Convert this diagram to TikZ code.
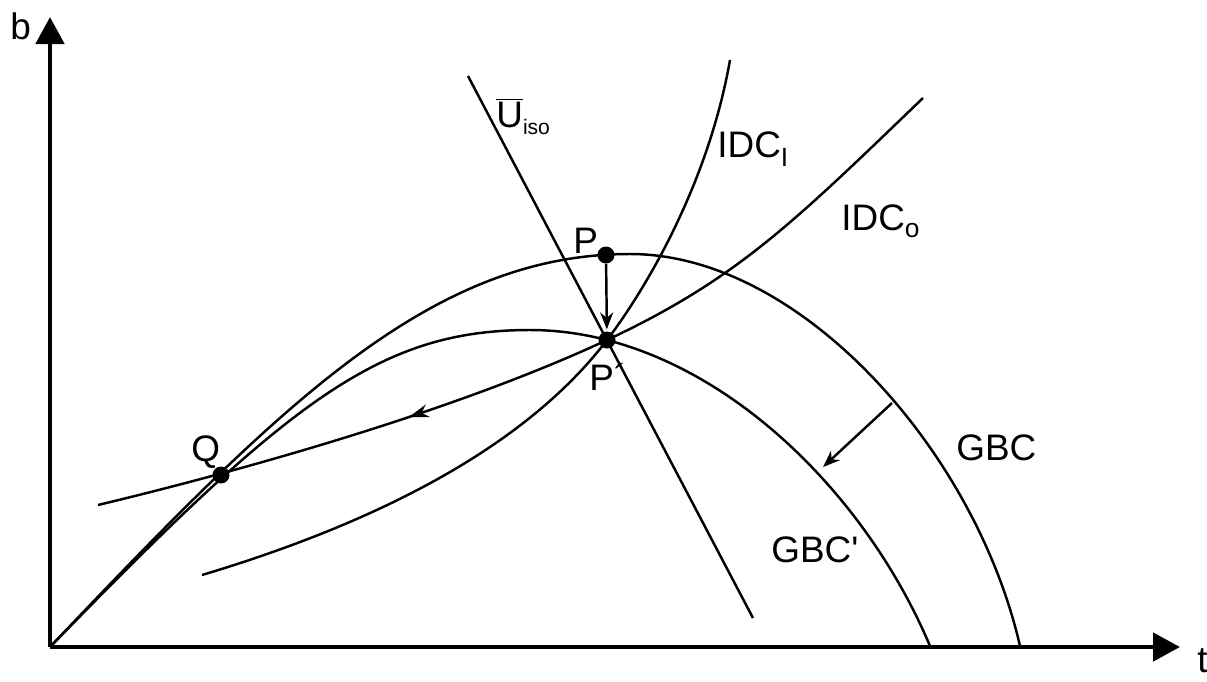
\documentclass[tikz,border=0pt]{standalone}
\usepackage{fontspec}
\setmainfont{Liberation Sans}
\usetikzlibrary{arrows.meta,decorations.markings}

% lowered subscripts, as the picture prints them
\newcommand{\lowsub}[3]{\raisebox{-#1}{\fontsize{#2}{#2}\selectfont #3}}

\begin{document}
\begin{tikzpicture}[
  x=0.02cm, y=-0.02cm,
  every node/.style={inner sep=0pt, anchor=base west, font=\fontsize{21}{25}\selectfont},
  dot/.style={circle, fill=black, minimum size=3.4mm, inner sep=0pt, anchor=center},
  axis/.style={draw, line width=2.8pt, -{Triangle[length=5.4mm, width=5.6mm]}},
  curve/.style={draw, line width=1.4pt},
  arrow/.style={draw, line width=1.4pt, -{Stealth[length=3.4mm, width=2.6mm]}},
  midarrow/.style={postaction={decorate}, decoration={markings,
    mark=at position #1 with {\arrow{Stealth[length=4mm, width=2.6mm]}}}}]

  \useasboundingbox (0,0) rectangle (1207,681);

  % points
  \coordinate (o)  at (50,647);
  \coordinate (p)  at (606,255);
  \coordinate (pp) at (607,340);
  \coordinate (q)  at (221,475);
  \coordinate (shiftA) at (892,403);
  \coordinate (shiftB) at (823,467);

  % axes
  \draw[axis] (o) -- (50,17);
  \draw[axis] (o) -- (1180,647);
  \node (lb) at (10,39) {b};
  \node (lt) at (1197,672) {t};

  % budget curves
  \draw[curve] (o) .. controls (280,405) and (430,254) .. (630,254)
    .. controls (800,254) and (975,450) .. (1020,646);
  \draw[curve] (o) .. controls (290,400) and (380,330) .. (530,330)
    .. controls (700,330) and (860,480) .. (930,646);

  % indifference curves
  \draw[curve, midarrow=0.655] (923,98) .. controls (793,223) and (737,279) .. (pp)
    .. controls (457,410) and (248,469) .. (98,505);
  \draw[curve] (730,60) .. controls (708,185) and (645,290) .. (pp)
    .. controls (517,458) and (352,530) .. (202,575);

  % iso-utility line
  \draw[curve] (468,76) -- (753,618);

  % dots and shifts
  \node[dot] (pdot)  at (p)  {};
  \node[dot] (ppdot) at (pp) {};
  \node[dot] (qdot)  at (q)  {};
  \draw[arrow, shorten >=1pt] (pdot) -- (ppdot);
  \draw[arrow] (shiftA) -- (shiftB);

  % labels
  \node (lp)   at (573,253) {P};
  \node (lpp)  at (589,390) {P´};
  \node (lq)   at (191,461) {Q};
  \node (liso) at (496,127) {$\overline{\mbox{U}}$\lowsub{4.5pt}{12}{iso}};
  \node (lidi) at (717,157) {IDC\lowsub{5.5pt}{15}{I}};
  \node (lido) at (841,230) {IDC\lowsub{4pt}{15}{o}};
  \node (lgbc) at (956,460) {GBC};
  \node (lgbp) at (771,562) {GBC\textquotesingle};
\end{tikzpicture}
\end{document}
